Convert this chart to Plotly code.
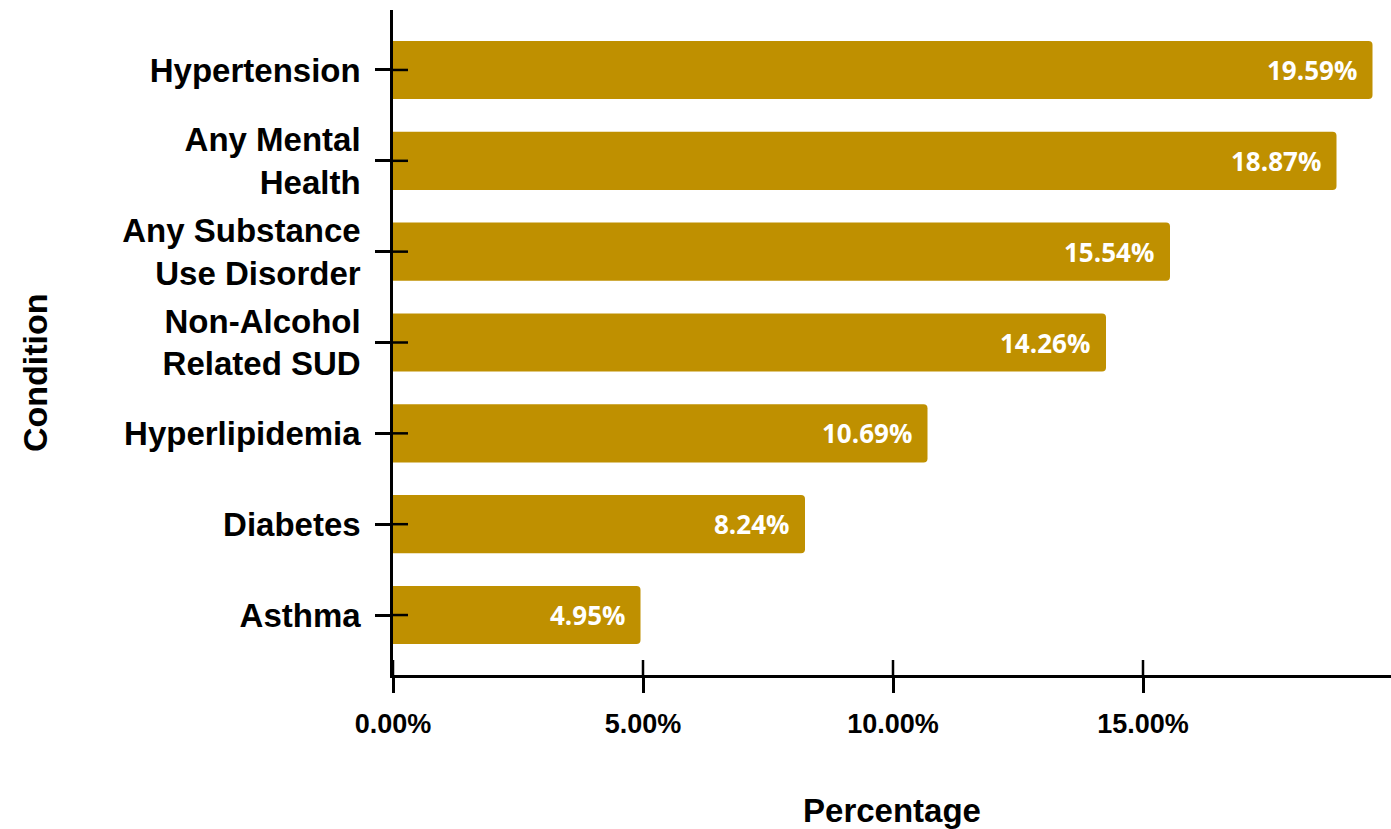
import plotly.graph_objects as go

categories = ["Hypertension", "Any Mental<br>Health", "Any Substance<br>Use Disorder",
              "Non-Alcohol<br>Related SUD", "Hyperlipidemia", "Diabetes", "Asthma"]
values = [19.59, 18.87, 15.54, 14.26, 10.69, 8.24, 4.95]
tick_vals = [0, 5, 10, 15]
tick_text = ["0.00%", "5.00%", "10.00%", "15.00%"]

BAR = "#BF9000"
LBL = "Liberation Sans, Arial, sans-serif"

fig = go.Figure()
fig.add_trace(go.Bar(
    x=values, y=categories, orientation="h",
    marker=dict(color=BAR, cornerradius=4, line=dict(width=0)),
    width=0.64, hoverinfo="skip",
))

annotations = []
for c, v in zip(categories, values):
    annotations.append(dict(
        x=v, y=c, xref="x", yref="y", text=f"{v:.2f}%", showarrow=False,
        xanchor="right", xshift=-14,
        font=dict(family="Open Sans, sans-serif", size=26, color="white", weight="bold"),
    ))
annotations.append(dict(
    text="Condition", xref="paper", yref="paper", x=-0.3587, y=0.454,
    xanchor="center", yanchor="middle", textangle=-90, showarrow=False,
    font=dict(family=LBL, size=34, color="black", weight="bold"),
))

shapes = []
for c in categories:
    shapes.append(dict(type="line", xref="paper", yref="y", xsizemode="pixel", xanchor=0,
                       x0=0, x1=15, y0=c, y1=c, line=dict(color="black", width=2.5)))
for t in tick_vals:
    shapes.append(dict(type="line", xref="x", yref="paper", ysizemode="pixel", yanchor=0,
                       x0=t, x1=t, y0=0, y1=15, line=dict(color="black", width=2.5)))

fig.update_layout(
    width=1391, height=829,
    margin=dict(l=393, r=0, t=10, b=154),
    plot_bgcolor="white", paper_bgcolor="white",
    showlegend=False,
    annotations=annotations, shapes=shapes,
    xaxis=dict(
        range=[0, 19.96], tickvals=tick_vals, ticktext=tick_text,
        showgrid=False, zeroline=False,
        showline=True, linecolor="black", linewidth=2.5,
        ticks="outside", ticklen=15, tickwidth=2.5, tickcolor="black",
        tickfont=dict(family=LBL, size=27, color="black", weight="bold"),
        ticklabelstandoff=8,
        title=dict(text="Percentage", standoff=63,
                   font=dict(family=LBL, size=33, color="black", weight="bold")),
    ),
    yaxis=dict(
        categoryorder="array", categoryarray=categories,
        range=[6.66, -0.66],
        showgrid=False, zeroline=False,
        showline=True, linecolor="black", linewidth=2.5,
        ticks="outside", ticklen=15, tickwidth=2.5, tickcolor="black",
        tickfont=dict(family=LBL, size=33, color="black", weight="bold"),
        ticklabelstandoff=8,
    ),
)

fig.write_html("out.html", config={"displayModeBar": False},
               post_script="document.body.style.margin='0';")
